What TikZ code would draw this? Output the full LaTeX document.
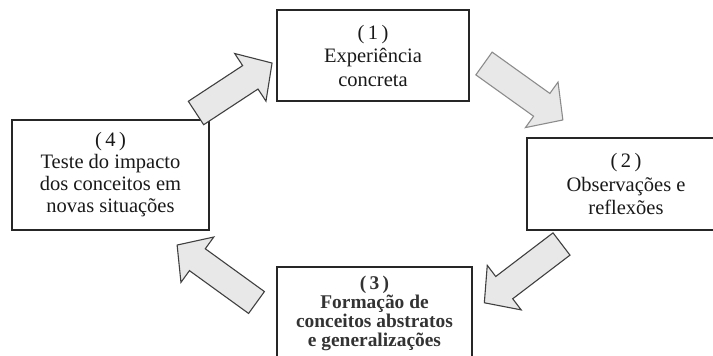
\documentclass[tikz,border=0pt]{standalone}
\usepackage{fontspec}
\setmainfont{Liberation Serif}
\tikzset{
  stagebox/.style={draw=black!85, line width=2.4pt, align=center, text=black!90, inner sep=0pt,
    font={\fontsize{20.5}{23.5}\selectfont}},
  blockarrow/.style={draw=black!75, line width=1.1pt, fill=black!9, line join=miter},
}
\begin{document}
\begin{tikzpicture}[x=1pt, y=-1pt]
\useasboundingbox (0,0) rectangle (713,356);
\clip (0,0) rectangle (713,356);

% the four stages
\node[stagebox, minimum width=192pt, minimum height=91pt] (exp) at (373,55.5)
  {(\,1\,)\\ Experiência\\ concreta};
\node[stagebox, minimum width=198pt, minimum height=92pt] (obs) at (626,184)
  {(\,2\,)\\ Observações e\\ reflexões};
\node[stagebox, minimum width=195pt, minimum height=92pt, text=black!80,
  font={\fontsize{19.4}{19}\selectfont\bfseries\lineskiplimit=-20pt}] (form) at (374.5,313)
  {(\,3\,)\\ Formação de\\ conceitos abstratos\\ e generalizações};
\node[stagebox, minimum width=197pt, minimum height=110pt, font={\fontsize{20.5}{22}\selectfont}] (test) at (110.5,175)
  {(\,4\,)\\ Teste do impacto\\ dos conceitos em\\ novas situações};

% block arrows of the cycle
\draw[blockarrow, shift={(196,113)}, rotate=33.3]
  (0,-14) -- (65,-14) -- (65,-28.5) -- (91,0) -- (65,28.5) -- (65,14) -- (0,14) -- cycle;
\draw[blockarrow, draw=black!45, shift={(484,63.5)}, rotate=-35.6]
  (0,-14) -- (71,-14) -- (71,-28) -- (97,0) -- (71,28) -- (71,14) -- (0,14) -- cycle;
\draw[blockarrow, shift={(561.5,244)}, rotate=217.3]
  (0,-14) -- (72,-14) -- (72,-28) -- (97,0) -- (72,28) -- (72,14) -- (0,14) -- cycle;
\draw[blockarrow, shift={(256.5,302.5)}, rotate=144.1]
  (0,-13.5) -- (73,-13.5) -- (73,-28) -- (98,0) -- (73,28) -- (73,13.5) -- (0,13.5) -- cycle;
\end{tikzpicture}
\end{document}
